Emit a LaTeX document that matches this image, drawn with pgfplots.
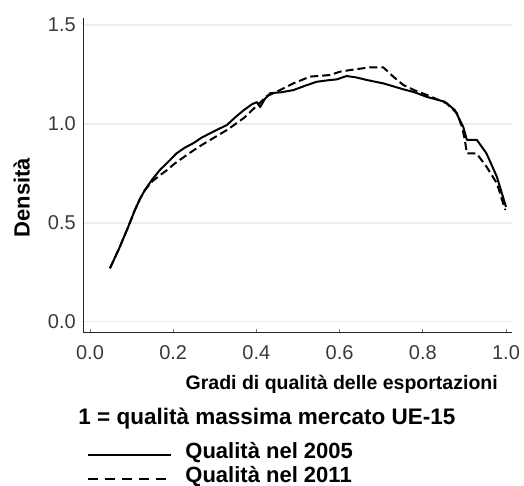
\documentclass[border=0pt]{standalone}
\usepackage{fontspec}
\setmainfont{Liberation Sans}
\usepackage{pgfplots}
\pgfplotsset{compat=1.18}

\definecolor{gridc}{HTML}{E6EEF1}
\definecolor{tickc}{HTML}{3A3A3A}

\begin{document}
\begin{tikzpicture}[x=1pt,y=1pt]
% fixed page: 524 x 486 px, axis corner at px (83.5, 332.3)
\path[use as bounding box] (-83.5,-153.7) rectangle (440.5,332.3);
\begin{axis}[
    at={(0,0)}, anchor=south west,
    scale only axis,
    width=428.2pt, height=314.3pt,
    xmin=-0.0156, xmax=1.0137,
    ymin=-0.0536, ymax=1.5354,
    axis x line*=bottom, axis y line*=left,
    axis line style={color=black!85, line width=1.3pt},
    xtick={0,0.2,0.4,0.6,0.8,1.0},
    ytick={0,0.5,1.0,1.5},
    xticklabels={0.0,0.2,0.4,0.6,0.8,1.0},
    yticklabels={0.0,0.5,1.0,1.5},
    tick align=inside,
    major tick length=3pt,
    xtick style={color=black!55, line width=0.8pt},
    ytick style={draw=none},
    ymajorgrids=true,
    grid style={color=gridc, line width=1.5pt},
    tick label style={font=\fontsize{20}{24}\selectfont, text=tickc, inner sep=0pt},
    xticklabel style={anchor=center, yshift=-20.2pt},
    yticklabel style={anchor=east, xshift=-7.5pt},
    xlabel={Gradi di qualità delle esportazioni},
    xlabel style={at={(axis description cs:0.603,-0.1814)}, anchor=base,
        inner sep=0pt, font=\bfseries\fontsize{19.5}{22}\selectfont},
    ylabel={Densità},
    ylabel style={at={(axis description cs:-0.126,0.4289)}, anchor=base,
        inner sep=0pt, font=\bfseries\fontsize{22}{24}\selectfont},
    legend cell align=left,
    legend style={at={(axis description cs:0.0075,-0.348)}, anchor=north west,
        draw=none, fill=none, inner sep=0pt, row sep=8.3pt, column sep=0pt,
        font=\bfseries\fontsize{22}{24}\selectfont,
        nodes={inner sep=0pt, text depth=0pt}},
    clip=false,
]
\addplot[black, line width=2pt, line join=round,
    legend image code/.code={\draw[black, line width=1.8pt] (0pt,-5pt) -- (83.3pt,-5pt); \path (96.6pt,0pt);}]
coordinates {
(0.048,0.27) (0.07,0.37) (0.092,0.48) (0.108,0.565) (0.12,0.62)
(0.132,0.666) (0.15,0.72) (0.168,0.767) (0.184,0.80) (0.208,0.851)
(0.228,0.88) (0.248,0.902) (0.268,0.93) (0.288,0.952) (0.31,0.975)
(0.329,0.994) (0.35,1.035) (0.37,1.07) (0.39,1.10) (0.401,1.11)
(0.409,1.085) (0.42,1.125) (0.433,1.155) (0.46,1.16) (0.489,1.171)
(0.52,1.195) (0.545,1.213) (0.57,1.22) (0.593,1.225) (0.617,1.242)
(0.64,1.235) (0.665,1.222) (0.705,1.205) (0.753,1.175) (0.78,1.16)
(0.809,1.137) (0.83,1.125) (0.853,1.112) (0.877,1.07) (0.897,0.986)
(0.906,0.919) (0.93,0.919) (0.953,0.851) (0.978,0.733) (1.0,0.58)
};
\addlegendentry{Qualità nel 2005}
\addplot[black, line width=2pt, dash pattern=on 8pt off 4pt,
    legend image code/.code={\draw[black, line width=1.8pt, dash pattern=on 10pt off 7pt] (0pt,-5pt) -- (83.3pt,-5pt); \path (96.6pt,0pt);}]
coordinates {
(0.048,0.27) (0.07,0.37) (0.092,0.48) (0.108,0.565) (0.12,0.62)
(0.132,0.665) (0.15,0.71) (0.168,0.74) (0.184,0.765) (0.204,0.80)
(0.224,0.83) (0.248,0.865) (0.27,0.895) (0.29,0.92) (0.31,0.945)
(0.33,0.97) (0.35,1.00) (0.37,1.03) (0.39,1.07) (0.41,1.11)
(0.425,1.14) (0.449,1.163) (0.489,1.205) (0.529,1.239) (0.577,1.247)
(0.601,1.264) (0.625,1.272) (0.673,1.286) (0.705,1.286) (0.729,1.239)
(0.753,1.197) (0.78,1.17) (0.809,1.147) (0.857,1.104) (0.882,1.054)
(0.895,0.98) (0.901,0.919) (0.906,0.851) (0.929,0.851) (0.953,0.784)
(0.978,0.70) (0.998,0.565)
};
\addlegendentry{Qualità nel 2011}
\node[anchor=base west, inner sep=0pt, font=\bfseries\fontsize{22.5}{24}\selectfont]
    at (axis description cs:-0.0124,-0.2949) {1 = qualità massima mercato UE-15};
\end{axis}
\end{tikzpicture}
\end{document}
